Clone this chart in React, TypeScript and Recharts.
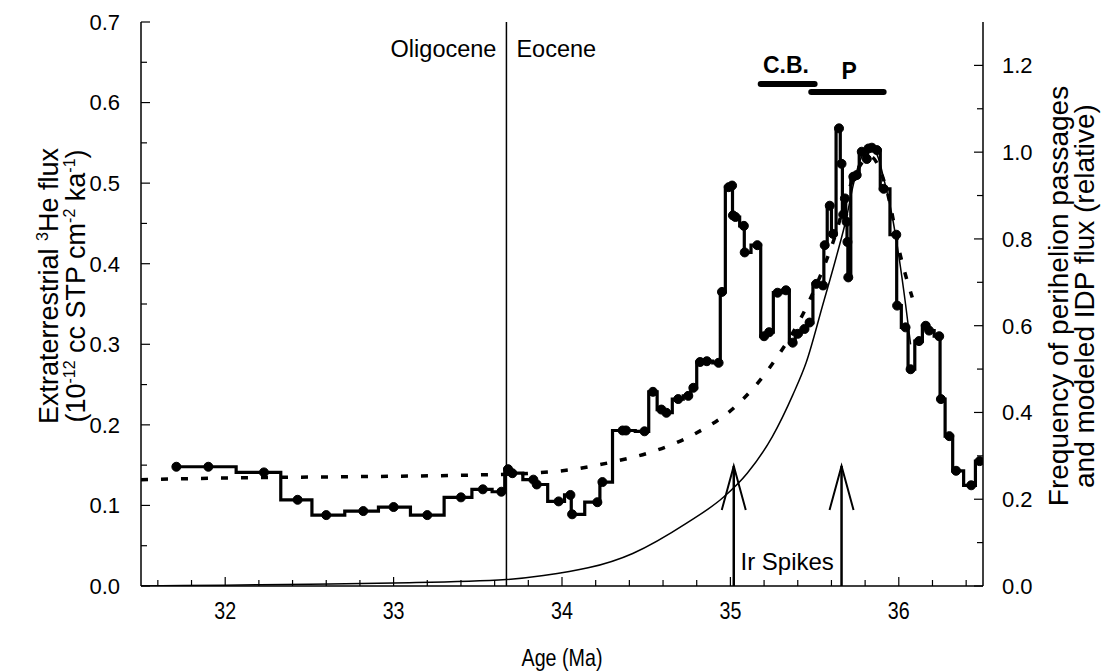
import { LineChart, Line, XAxis, YAxis, ReferenceLine, ReferenceDot } from "recharts";

const FONT = '"Liberation Sans", Arial, sans-serif';

// measured 3He flux (age in Ma, flux in 1e-12 cc STP cm-2 ka-1)
const heAges = [
  31.71, 31.9, 32.23, 32.43, 32.6, 32.82, 33.0, 33.2, 33.4, 33.53, 33.64, 33.68, 33.705, 33.83, 33.85,
  33.98, 34.05, 34.06, 34.21, 34.24, 34.36, 34.38, 34.49, 34.54, 34.59, 34.62, 34.69, 34.75, 34.78,
  34.82, 34.86, 34.93, 34.95, 34.99, 35.01, 35.015, 35.03, 35.08, 35.085, 35.16, 35.2, 35.23, 35.28,
  35.33, 35.37, 35.4, 35.44, 35.47, 35.51, 35.55, 35.56, 35.59, 35.61, 35.645, 35.66, 35.67, 35.68,
  35.69, 35.695, 35.7, 35.73, 35.75, 35.78, 35.81, 35.82, 35.84, 35.87, 35.91, 35.985, 35.99, 36.04,
  36.07, 36.12, 36.16, 36.18, 36.24, 36.25, 36.3, 36.34, 36.43, 36.48,
];
const heFlux = [
  0.148, 0.148, 0.141, 0.107, 0.088, 0.093, 0.098, 0.088, 0.11, 0.12, 0.117, 0.145, 0.14, 0.132, 0.126,
  0.105, 0.113, 0.089, 0.104, 0.129, 0.193, 0.193, 0.192, 0.241, 0.219, 0.215, 0.232, 0.236, 0.246,
  0.278, 0.279, 0.277, 0.365, 0.495, 0.497, 0.46, 0.458, 0.447, 0.414, 0.423, 0.31, 0.315, 0.364,
  0.367, 0.302, 0.313, 0.319, 0.327, 0.375, 0.373, 0.423, 0.472, 0.437, 0.568, 0.524, 0.461, 0.481,
  0.452, 0.427, 0.383, 0.508, 0.51, 0.539, 0.53, 0.543, 0.544, 0.541, 0.493, 0.436, 0.348, 0.321,
  0.269, 0.304, 0.323, 0.317, 0.31, 0.232, 0.186, 0.143, 0.125, 0.155,
];

// modeled IDP flux (dashed), relative units on right axis
const idpAges = [31.5, 32.0, 32.5, 33.0, 33.5, 33.82, 34.07, 34.3, 34.54, 34.79, 35.03, 35.24, 35.46, 35.61, 35.72, 35.83, 35.93, 36.01, 36.08];
const idpFlux = [0.245, 0.249, 0.251, 0.253, 0.256, 0.26, 0.269, 0.286, 0.31, 0.351, 0.414, 0.507, 0.65, 0.793, 0.93, 0.99, 0.91, 0.761, 0.665];

// frequency of perihelion passages (thin line), relative units
const periAges = [31.5, 32.0, 32.5, 33.0, 33.67, 33.89, 34.42, 34.74, 34.96, 35.1, 35.25, 35.37, 35.45, 35.55, 35.63, 35.69, 35.73, 35.77, 35.81, 35.85, 35.88, 35.91, 35.96, 36.0, 36.04, 36.07];
const periFreq = [0.0, 0.002, 0.004, 0.007, 0.015, 0.024, 0.075, 0.145, 0.205, 0.26, 0.345, 0.44, 0.515, 0.65, 0.76, 0.85, 0.925, 0.98, 1.005, 1.005, 0.985, 0.94, 0.854, 0.761, 0.65, 0.557];

const ageTicks = [
  31.6, 31.8, 32, 32.2, 32.4, 32.6, 32.8, 33, 33.2, 33.4, 33.6, 33.8, 34, 34.2, 34.4, 34.6, 34.8, 35,
  35.2, 35.4, 35.6, 35.8, 36, 36.2, 36.4,
];
const fluxTicks = [0, 0.05, 0.1, 0.15, 0.2, 0.25, 0.3, 0.35, 0.4, 0.45, 0.5, 0.55, 0.6, 0.65, 0.7];
const relTicks = [0, 0.1, 0.2, 0.3, 0.4, 0.5, 0.6, 0.7, 0.8, 0.9, 1.0, 1.1, 1.2];

const boundaryAge = 33.67;
const irSpikeAges = [35.02, 35.66];
const irSpikeTop = 0.149;
const cbBar = [35.18, 35.5];
const cbLevel = 0.623;
const pBar = [35.48, 35.91];
const pLevel = 0.613;

const heData = heAges.map((age, i) => ({ age, v: heFlux[i] }));
const idpData = idpAges.map((age, i) => ({ age, v: idpFlux[i] }));
const periData = periAges.map((age, i) => ({ age, v: periFreq[i] }));

const isWhole = (v: number, step: number) => Math.abs(v / step - Math.round(v / step)) < 1e-6;

function BottomTick({ x, y, payload }: any) {
  const major = isWhole(payload.value, 1);
  return (
    <g>
      <line x1={x} x2={x} y1={y} y2={y - (major ? 9 : 6)} stroke="#000" strokeWidth={1.2} />
      {major ? (
        <text
          transform={`translate(${x} ${y + 33}) scale(0.82 1)`}
          textAnchor="middle"
          fontSize={24}
          fontFamily={FONT}
          fill="#000"
        >
          {Math.round(payload.value)}
        </text>
      ) : null}
    </g>
  );
}

function TopTick({ x, y, payload }: any) {
  const major = isWhole(payload.value, 1);
  return <line x1={x} x2={x} y1={y} y2={y + (major ? 9 : 6)} stroke="#000" strokeWidth={1.2} />;
}

function LeftTick({ x, y, payload }: any) {
  const major = isWhole(payload.value, 0.1);
  return (
    <g>
      <line x1={x} x2={x + (major ? 9 : 6)} y1={y} y2={y} stroke="#000" strokeWidth={1.2} />
      {major ? (
        <text x={x - 21} y={y} dy="0.36em" textAnchor="end" fontSize={22} fontFamily={FONT} fill="#000">
          {payload.value.toFixed(1)}
        </text>
      ) : null}
    </g>
  );
}

function RightTick({ x, y, payload }: any) {
  const major = isWhole(payload.value, 0.2);
  return (
    <g>
      <line x1={x} x2={x - (major ? 9 : 6)} y1={y} y2={y} stroke="#000" strokeWidth={1.2} />
      {major ? (
        <text x={x + 19} y={y} dy="0.36em" textAnchor="start" fontSize={22} fontFamily={FONT} fill="#000">
          {payload.value.toFixed(1)}
        </text>
      ) : null}
    </g>
  );
}

function LeftTitle({ viewBox }: any) {
  const cy = viewBox.y + viewBox.height / 2 - 18;
  return (
    <g fontFamily={FONT} fontSize={27} fill="#000">
      <text transform={`translate(${viewBox.x + 58}, ${cy}) rotate(-90)`} textAnchor="middle">
        Extraterrestrial <tspan dy={-10} fontSize={16}>3</tspan>
        <tspan dy={10}>He flux</tspan>
      </text>
      <text transform={`translate(${viewBox.x + 85}, ${cy}) rotate(-90)`} textAnchor="middle">
        (10<tspan dy={-10} fontSize={16}>-12</tspan>
        <tspan dy={10}> cc STP cm</tspan>
        <tspan dy={-10} fontSize={16}>-2</tspan>
        <tspan dy={10}> ka</tspan>
        <tspan dy={-10} fontSize={16}>-1</tspan>
        <tspan dy={10}>)</tspan>
      </text>
    </g>
  );
}

function RightTitle({ viewBox }: any) {
  const cy = viewBox.y + viewBox.height / 2 - 8;
  return (
    <g fontFamily={FONT} fontSize={28} fill="#000">
      <text transform={`translate(${viewBox.x + 85}, ${cy}) rotate(-90)`} textAnchor="middle">
        Frequency of perihelion passages
      </text>
      <text transform={`translate(${viewBox.x + 111}, ${cy}) rotate(-90)`} textAnchor="middle">
        and modeled IDP flux (relative)
      </text>
    </g>
  );
}

function BottomTitle({ viewBox }: any) {
  return (
    <text
      transform={`translate(${viewBox.x + viewBox.width / 2} ${viewBox.y + 80}) scale(0.82 1)`}
      textAnchor="middle"
      fontSize={24}
      fontFamily={FONT}
      fill="#000"
    >
      Age (Ma)
    </text>
  );
}

function EpochLabels({ cx, cy }: any) {
  return (
    <g fontFamily={FONT} fontSize={23.5} fill="#000">
      <text x={cx - 10} y={cy} dy="0.35em" textAnchor="end">Oligocene</text>
      <text x={cx + 10} y={cy} dy="0.35em" textAnchor="start">Eocene</text>
    </g>
  );
}

function ArrowHead({ cx, cy }: any) {
  return (
    <path
      d={`M${cx - 12},${cy + 44} L${cx},${cy} L${cx + 12},${cy + 44}`}
      fill="none"
      stroke="#000"
      strokeWidth={2}
    />
  );
}

const textShape = (label: string, size: number, bold: boolean, anchor: string) =>
  ({ cx, cy }: any) => (
    <text x={cx} y={cy} dy="0.35em" textAnchor={anchor} fontSize={size} fontWeight={bold ? "bold" : "normal"} fontFamily={FONT} fill="#000">
      {label}
    </text>
  );

export default function App() {
  return (
    <div style={{ position: "absolute", left: 0, top: 0, background: "#fff" }}>
      <LineChart width={1108} height={672} margin={{ top: 22, right: 0, bottom: 0, left: 0 }}>
        <XAxis
          xAxisId="bottom"
          dataKey="age"
          type="number"
          domain={[31.5, 36.5]}
          allowDataOverflow
          ticks={ageTicks}
          interval={0}
          tickSize={0}
          tickMargin={0}
          height={86}
          tick={<BottomTick />}
          axisLine={{ stroke: "#000", strokeWidth: 1.5 }}
          label={{ content: BottomTitle }}
        />
        <XAxis
          xAxisId="top"
          orientation="top"
          dataKey="age"
          type="number"
          domain={[31.5, 36.5]}
          allowDataOverflow
          ticks={ageTicks}
          interval={0}
          tickSize={0}
          tickMargin={0}
          height={0}
          tick={<TopTick />}
          axisLine={{ stroke: "#000", strokeWidth: 1.5 }}
        />
        <YAxis
          yAxisId="left"
          type="number"
          domain={[0, 0.7]}
          allowDataOverflow
          ticks={fluxTicks}
          interval={0}
          tickSize={0}
          tickMargin={0}
          width={141}
          tick={<LeftTick />}
          axisLine={{ stroke: "#000", strokeWidth: 1.5 }}
          label={{ content: LeftTitle }}
        />
        <YAxis
          yAxisId="right"
          orientation="right"
          type="number"
          domain={[0, 1.3]}
          allowDataOverflow
          ticks={relTicks}
          interval={0}
          tickSize={0}
          tickMargin={0}
          width={125}
          tick={<RightTick />}
          axisLine={{ stroke: "#000", strokeWidth: 1.5 }}
          label={{ content: RightTitle }}
        />

        <ReferenceLine xAxisId="bottom" yAxisId="left" x={boundaryAge} stroke="#000" strokeWidth={1.5} />
        <ReferenceDot xAxisId="bottom" yAxisId="left" x={boundaryAge} y={0.667} r={0} shape={EpochLabels} />

        <Line
          xAxisId="bottom"
          yAxisId="right"
          data={periData}
          dataKey="v"
          type="monotone"
          stroke="#000"
          strokeWidth={1.5}
          dot={false}
          isAnimationActive={false}
        />
        <Line
          xAxisId="bottom"
          yAxisId="right"
          data={idpData}
          dataKey="v"
          type="monotone"
          stroke="#000"
          strokeWidth={3.5}
          strokeDasharray="7 13"
          dot={false}
          isAnimationActive={false}
        />
        <Line
          xAxisId="bottom"
          yAxisId="left"
          data={heData}
          dataKey="v"
          type="step"
          stroke="#000"
          strokeWidth={3.2}
          dot={{ r: 4.5, fill: "#000", stroke: "#000", strokeWidth: 1 }}
          isAnimationActive={false}
        />

        {irSpikeAges.map((a) => (
          <ReferenceLine
            key={`shaft-${a}`}
            xAxisId="bottom"
            yAxisId="left"
            segment={[{ x: a, y: 0 }, { x: a, y: irSpikeTop }]}
            stroke="#000"
            strokeWidth={2.5}
          />
        ))}
        {irSpikeAges.map((a) => (
          <ReferenceDot key={`head-${a}`} xAxisId="bottom" yAxisId="left" x={a} y={irSpikeTop} r={0} shape={ArrowHead} />
        ))}
        <ReferenceDot xAxisId="bottom" yAxisId="left" x={35.06} y={0.03} r={0} shape={textShape("Ir Spikes", 24, false, "start")} />

        <ReferenceLine
          xAxisId="bottom"
          yAxisId="left"
          segment={[{ x: cbBar[0], y: cbLevel }, { x: cbBar[1], y: cbLevel }]}
          stroke="#000"
          strokeWidth={6}
          strokeLinecap="round"
        />
        <ReferenceLine
          xAxisId="bottom"
          yAxisId="left"
          segment={[{ x: pBar[0], y: pLevel }, { x: pBar[1], y: pLevel }]}
          stroke="#000"
          strokeWidth={6}
          strokeLinecap="round"
        />
        <ReferenceDot xAxisId="bottom" yAxisId="left" x={35.33} y={0.647} r={0} shape={textShape("C.B.", 23, true, "middle")} />
        <ReferenceDot xAxisId="bottom" yAxisId="left" x={35.705} y={0.639} r={0} shape={textShape("P", 23, true, "middle")} />
      </LineChart>
    </div>
  );
}
